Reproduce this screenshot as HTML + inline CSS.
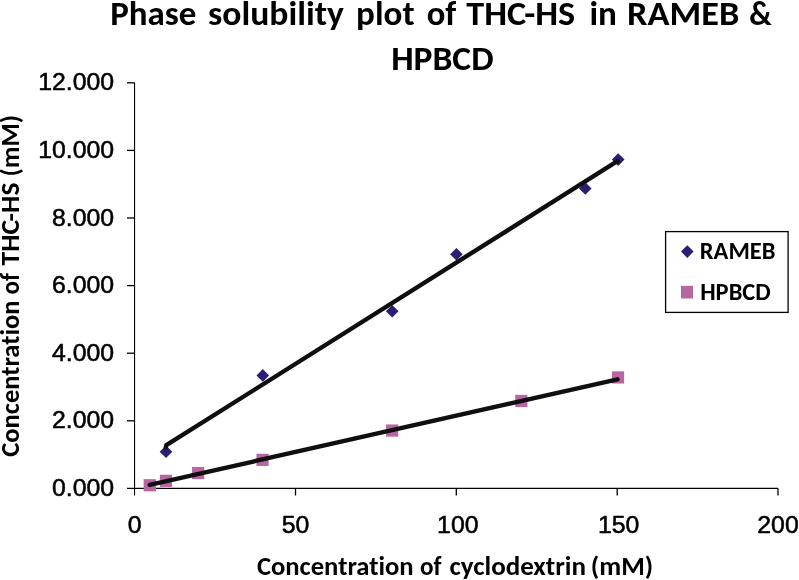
<!DOCTYPE html>
<html>
<head>
<meta charset="utf-8">
<style>
html,body{margin:0;padding:0;background:#fff;width:799px;height:580px;overflow:hidden;}
svg{display:block;}
.b{font-family:Carlito,"Liberation Sans",sans-serif;font-weight:bold;fill:#000;font-variant-ligatures:none;font-feature-settings:"liga" 0,"clig" 0;}
.t{}
.n{font-family:"Liberation Sans",Arial,sans-serif;fill:#000;font-size:24.8px;stroke:#000;stroke-width:0.55px;}
</style>
</head>
<body>
<svg width="799" height="580" viewBox="0 0 799 580">
<rect width="799" height="580" fill="#fff"/>
<!-- title -->
<text class="b t" x="110.27" y="24.6" font-size="34" textLength="86.15" lengthAdjust="spacingAndGlyphs">Phase</text>
<text class="b t" x="208.1" y="24.6" font-size="34" textLength="135.81" lengthAdjust="spacingAndGlyphs">solubility</text>
<text class="b t" x="356.14" y="24.6" font-size="34" textLength="58.44" lengthAdjust="spacingAndGlyphs">plot</text>
<text class="b t" x="426.78" y="24.6" font-size="34" textLength="29.57" lengthAdjust="spacingAndGlyphs">of</text>
<text class="b t" x="466.3" y="24.6" font-size="34" textLength="108.87" lengthAdjust="spacingAndGlyphs">THC-HS</text>
<text class="b t" x="589.47" y="24.6" font-size="34" textLength="27.52" lengthAdjust="spacingAndGlyphs">in</text>
<text class="b t" x="627.13" y="24.6" font-size="34" textLength="112.2" lengthAdjust="spacingAndGlyphs">RAMEB</text>
<text class="b t" x="749.16" y="24.6" font-size="34" textLength="22.46" lengthAdjust="spacingAndGlyphs">&amp;</text>
<text class="b t" x="391.16" y="70" font-size="34" textLength="102.4" lengthAdjust="spacingAndGlyphs">HPBCD</text>

<!-- axes -->
<g stroke="#000" stroke-width="1.3" fill="none">
<line x1="134.55" y1="82.8" x2="134.55" y2="495.5" stroke-width="1.1"/>
<line x1="127" y1="488.4" x2="778" y2="488.4"/>
<line x1="127" y1="82.8" x2="134.6" y2="82.8"/>
<line x1="127" y1="150.4" x2="134.6" y2="150.4"/>
<line x1="127" y1="218" x2="134.6" y2="218"/>
<line x1="127" y1="285.6" x2="134.6" y2="285.6"/>
<line x1="127" y1="353.2" x2="134.6" y2="353.2"/>
<line x1="127" y1="420.8" x2="134.6" y2="420.8"/>
<line x1="295.5" y1="488.4" x2="295.5" y2="495.5"/>
<line x1="456.3" y1="488.4" x2="456.3" y2="495.5"/>
<line x1="617.2" y1="488.4" x2="617.2" y2="495.5"/>
<line x1="778" y1="488.4" x2="778" y2="495.5"/>
</g>

<!-- y tick labels -->
<g class="n" text-anchor="end" transform="translate(1.1,0)">
<text x="113" y="90.4">12.000</text>
<text x="113" y="158.0">10.000</text>
<text x="113" y="225.6">8.000</text>
<text x="113" y="293.2">6.000</text>
<text x="113" y="360.8">4.000</text>
<text x="113" y="428.4">2.000</text>
<text x="113" y="496.0">0.000</text>
</g>
<!-- x tick labels -->
<g class="n" text-anchor="middle">
<text x="134.6" y="533.3">0</text>
<text x="295.5" y="533.3">50</text>
<text x="457.8" y="533.3">100</text>
<text x="618.7" y="533.3">150</text>
<text x="778" y="533.3">200</text>
</g>

<!-- axis titles -->
<text class="b" x="256.9" y="574.6" font-size="26.5" textLength="156.63" lengthAdjust="spacingAndGlyphs">Concentration</text>
<text class="b" x="420.05" y="574.6" font-size="26.5" textLength="21.5" lengthAdjust="spacingAndGlyphs">of</text>
<text class="b" x="449.4" y="574.6" font-size="26.5" textLength="136.55" lengthAdjust="spacingAndGlyphs">cyclodextrin</text>
<text class="b" x="590.78" y="574.6" font-size="26.5" textLength="62.4" lengthAdjust="spacingAndGlyphs">(mM)</text>
<g transform="translate(19,0) rotate(-90)">
<text class="b" x="-456.7" y="0" font-size="26.5" textLength="156.12" lengthAdjust="spacingAndGlyphs">Concentration</text>
<text class="b" x="-294.5" y="0" font-size="26.5" textLength="21.52" lengthAdjust="spacingAndGlyphs">of</text>
<text class="b" x="-265.5" y="0" font-size="26.5" textLength="82.95" lengthAdjust="spacingAndGlyphs">THC-HS</text>
<text class="b" x="-176.51" y="0" font-size="26.5" textLength="61.57" lengthAdjust="spacingAndGlyphs">(mM)</text>
</g>

<!-- HPBCD squares -->
<g fill="#b866a1">
<rect x="143.65" y="479.15" width="12.2" height="12.2"/>
<rect x="159.85" y="474.75" width="12.2" height="12.2"/>
<rect x="192.05" y="466.95" width="12.2" height="12.2"/>
<rect x="256.45" y="453.75" width="12.2" height="12.2"/>
<rect x="386.05" y="424.45" width="12.2" height="12.2"/>
<rect x="515.25" y="394.85" width="12.2" height="12.2"/>
<rect x="611.95" y="371.35" width="12.2" height="12.2"/>
</g>
<!-- RAMEB diamonds -->
<g fill="#2a1e72">
<path d="M166 445.40 l6.3 6.3 -6.3 6.3 -6.3 -6.3z"/>
<path d="M262.8 369.10 l6.3 6.3 -6.3 6.3 -6.3 -6.3z"/>
<path d="M392.2 305.00 l6.3 6.3 -6.3 6.3 -6.3 -6.3z"/>
<path d="M456.4 248.00 l6.3 6.3 -6.3 6.3 -6.3 -6.3z"/>
<path d="M585.3 182.20 l6.3 6.3 -6.3 6.3 -6.3 -6.3z"/>
<path d="M618.2 153.30 l6.3 6.3 -6.3 6.3 -6.3 -6.3z"/>
</g>

<!-- trendlines -->
<g stroke="#0f0f0f" stroke-width="4.4" fill="none" stroke-linecap="round" stroke-linejoin="round">
<polyline points="165.8,447.6 166.3,445.2 617.4,161.2"/>
<line x1="149.7" y1="484.9" x2="617.5" y2="379.3"/>
</g>

<!-- legend -->
<rect x="665.6" y="231.6" width="122.5" height="80.8" fill="#fff" stroke="#000" stroke-width="1.3"/>
<path d="M687.3 245.30 l6.3 6.3 -6.3 6.3 -6.3 -6.3z" fill="#2a1e72"/>
<rect x="681" y="285.9" width="12" height="12.6" fill="#b866a1"/>
<text class="b" x="699.78" y="259.2" font-size="24" textLength="75.68" lengthAdjust="spacingAndGlyphs">RAMEB</text>
<text class="b" x="700.18" y="299.9" font-size="24" textLength="70.55" lengthAdjust="spacingAndGlyphs">HPBCD</text>
</svg>
</body>
</html>
